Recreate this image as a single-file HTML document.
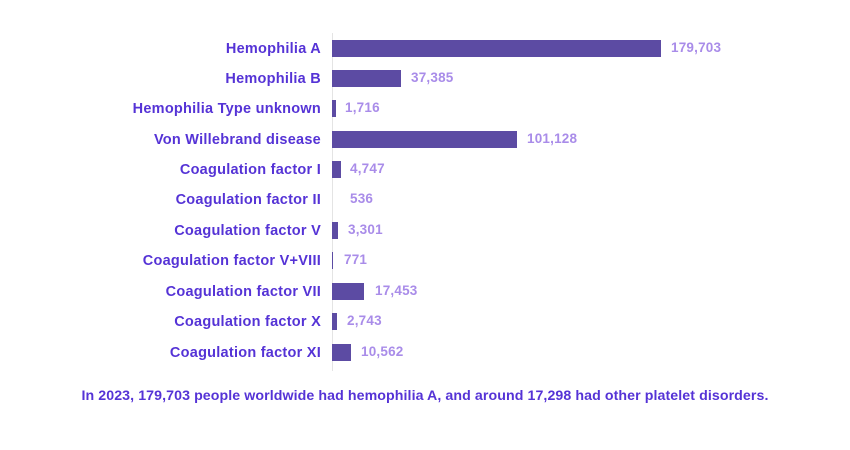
<!DOCTYPE html>
<html><head><meta charset="utf-8"><style>
body{margin:0;width:850px;height:450px;background:#fff;position:relative;overflow:hidden;font-family:"Liberation Sans",sans-serif;font-weight:bold}
.l{position:absolute;right:529px;font-size:14.5px;letter-spacing:0.25px;color:#5533d6;line-height:16px;white-space:nowrap;margin-top:1px}
.b{position:absolute;left:332px;height:17px;background:#5c4ba3}
.v{position:absolute;font-size:13.5px;letter-spacing:0.2px;color:#a98ce9;line-height:16px}
.ax{position:absolute;left:332px;top:33px;width:1px;height:338px;background:#e4e4e4}
.cap{position:absolute;left:0;width:850px;text-align:center;top:388px;font-size:14.2px;letter-spacing:0.08px;color:#5533d6}
</style></head><body>
<div class="ax"></div>
<div class="l" style="top:40px">Hemophilia A</div><div class="b" style="top:40px;width:329px"></div><div class="v" style="top:40px;left:671px">179,703</div>
<div class="l" style="top:70px">Hemophilia B</div><div class="b" style="top:70px;width:69px"></div><div class="v" style="top:70px;left:411px">37,385</div>
<div class="l" style="top:100px">Hemophilia Type unknown</div><div class="b" style="top:100px;width:4px"></div><div class="v" style="top:100px;left:345px">1,716</div>
<div class="l" style="top:131px">Von Willebrand disease</div><div class="b" style="top:131px;width:185px"></div><div class="v" style="top:131px;left:527px">101,128</div>
<div class="l" style="top:161px">Coagulation factor I</div><div class="b" style="top:161px;width:9px"></div><div class="v" style="top:161px;left:350px">4,747</div>
<div class="l" style="top:191px">Coagulation factor II</div><div class="v" style="top:191px;left:350px">536</div>
<div class="l" style="top:222px">Coagulation factor V</div><div class="b" style="top:222px;width:6px"></div><div class="v" style="top:222px;left:348px">3,301</div>
<div class="l" style="top:252px">Coagulation factor V+VIII</div><div class="b" style="top:252px;width:1px"></div><div class="v" style="top:252px;left:344px">771</div>
<div class="l" style="top:283px">Coagulation factor VII</div><div class="b" style="top:283px;width:32px"></div><div class="v" style="top:283px;left:375px">17,453</div>
<div class="l" style="top:313px">Coagulation factor X</div><div class="b" style="top:313px;width:5px"></div><div class="v" style="top:313px;left:347px">2,743</div>
<div class="l" style="top:344px">Coagulation factor XI</div><div class="b" style="top:344px;width:19px"></div><div class="v" style="top:344px;left:361px">10,562</div>
<div class="cap">In 2023, 179,703 people worldwide had hemophilia A, and around 17,298 had other platelet disorders.</div>
</body></html>
